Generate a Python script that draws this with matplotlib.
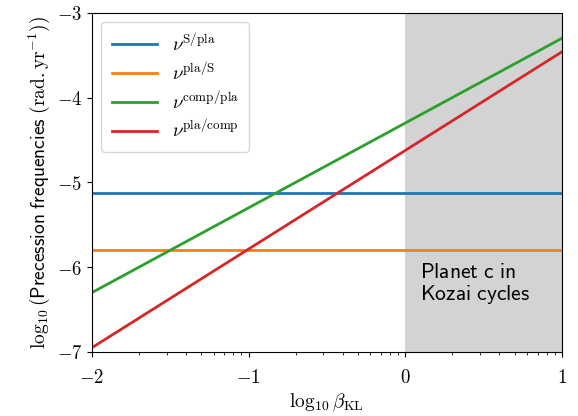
import matplotlib
matplotlib.use("Agg")
import matplotlib.pyplot as plt
import numpy as np
from matplotlib.ticker import FixedLocator

plt.rcParams.update({
    'mathtext.fontset': 'cm',
    'font.size': 13,
    'axes.labelsize': 14,
    'xtick.labelsize': 13.5,
    'ytick.labelsize': 13.5,
    'legend.fontsize': 13.5,
})

# --- Data ---
beta_log = [-2.0, 1.0]
nu_S_pla = [-5.125, -5.125]
nu_pla_S = [-5.795, -5.795]
nu_comp_pla = [-6.30, -3.30]
nu_pla_comp = [-6.95, -3.46]
kozai_span = (0.0, 1.0)

fig, ax = plt.subplots(figsize=(5.78, 4.16), dpi=100)
fig.subplots_adjust(left=0.159, right=0.972, top=0.969, bottom=0.154)

ax.axvspan(kozai_span[0], kozai_span[1], color='lightgray', lw=0)
ax.plot(beta_log, nu_S_pla, color='#1f77b4', lw=2.0, label=r'$\nu^{\mathrm{S/pla}}$')
ax.plot(beta_log, nu_pla_S, color='#ff7f0e', lw=2.0, label=r'$\nu^{\mathrm{pla/S}}$')
ax.plot(beta_log, nu_comp_pla, color='#2ca02c', lw=2.0, label=r'$\nu^{\mathrm{comp/pla}}$')
ax.plot(beta_log, nu_pla_comp, color='#d62728', lw=2.0, label=r'$\nu^{\mathrm{pla/comp}}$')

ax.text(0.095, -6.2, r'$\mathsf{Planet\ c\ in}$' + '\n' + r'$\mathsf{Kozai\ cycles}$',
        fontsize=15.5, va='center', ha='left', linespacing=1.05)

ax.set_xlim(-2, 1)
ax.set_ylim(-7, -3)
ax.set_xticks([-2, -1, 0, 1])
ax.set_xticklabels([r'$-2$', r'$-1$', r'$0$', r'$1$'])
ax.set_yticks([-7, -6, -5, -4, -3])
ax.set_yticklabels([r'$-7$', r'$-6$', r'$-5$', r'$-4$', r'$-3$'])
minor = [d + np.log10(k) for d in (-2, -1, 0) for k in range(2, 10)]
ax.xaxis.set_minor_locator(FixedLocator(minor))
ax.tick_params(axis='x', which='major', pad=8)

ax.set_xlabel(r'$\log_{10}\beta_{\mathrm{KL}}$', labelpad=3)
ax.set_ylabel(r'$\log_{10}(\mathsf{Precession\ frequencies}\ (\mathrm{rad.yr}^{-1}))$', labelpad=3)
ax.legend(loc='upper left', handlelength=2.4, borderpad=0.55, labelspacing=0.35)

fig.savefig('out.png', dpi=100)
